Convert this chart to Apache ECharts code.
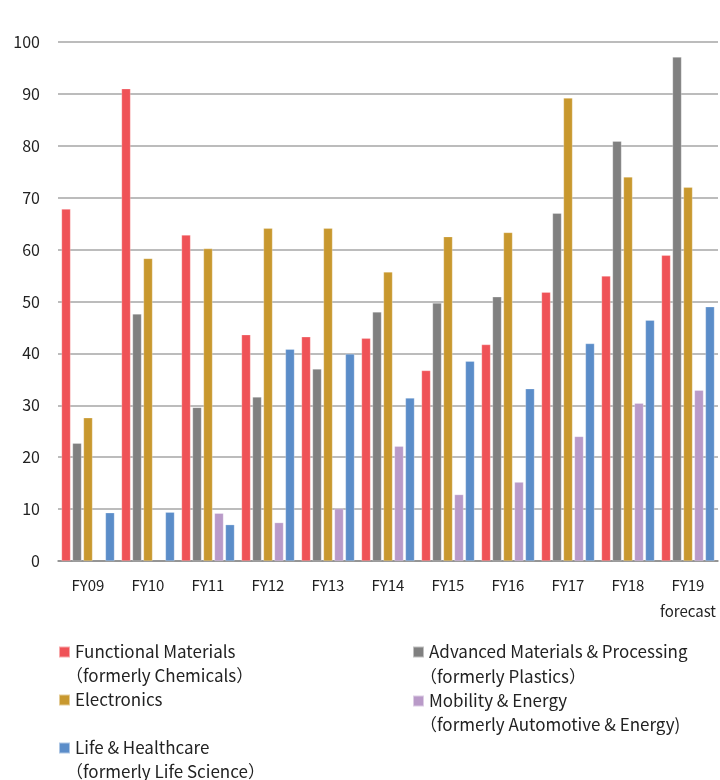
<!DOCTYPE html>
<html>
<head>
<meta charset="utf-8">
<script src="https://cdn.jsdelivr.net/npm/echarts@6/dist/echarts.min.js"></script>
<style>
html,body{margin:0;padding:0;background:#fff;}
#chart{width:720px;height:780px;}
</style>
</head>
<body>
<div id="chart"></div>
<script>
var categories = ['FY09','FY10','FY11','FY12','FY13','FY14','FY15','FY16','FY17','FY18','FY19\nforecast'];
var functionalMaterials = [67.8, 91.0, 62.8, 43.6, 43.2, 42.9, 36.7, 41.7, 51.8, 54.9, 58.9];
var advancedMaterials = [22.7, 47.6, 29.6, 31.6, 37.0, 48.0, 49.7, 50.9, 67.0, 80.9, 97.1];
var electronics = [27.6, 58.3, 60.2, 64.1, 64.1, 55.7, 62.5, 63.3, 89.2, 74.0, 72.0];
var mobilityEnergy = [null, null, 9.2, 7.4, 10.1, 22.1, 12.8, 15.2, 24.0, 30.4, 32.9];
var lifeHealthcare = [9.3, 9.4, 7.0, 40.8, 39.9, 31.4, 38.5, 33.2, 41.9, 46.4, 49.0];

var seriesNames = ['Functional Materials','Advanced Materials & Processing','Electronics','Mobility & Energy','Life & Healthcare'];
var seriesSubNames = ['（formerly Chemicals）','（formerly Plastics）','','（formerly Automotive & Energy)','（formerly Life Science）'];
var seriesData = [functionalMaterials, advancedMaterials, electronics, mobilityEnergy, lifeHealthcare];
var colors = ['#EF5257','#808080','#C8982E','#B99AC8','#5B8DC9'];

var FONT = '"Noto Sans CJK JP", "Noto Sans", sans-serif';

var legendPos = [
  {left: 58, y: 652, sub: 676},
  {left: 412, y: 652, sub: 677},
  {left: 58, y: 700, sub: null},
  {left: 412, y: 701, sub: 725},
  {left: 58, y: 748, sub: 772}
];

var legends = [];
var graphics = [];
seriesNames.forEach(function(n, i){
  var p = legendPos[i];
  legends.push({
    data: [n],
    left: p.left,
    top: p.y - 12,
    padding: 0,
    itemWidth: 11,
    itemHeight: 11,
    selectedMode: false,
    icon: 'rect',
    textStyle: {fontFamily: FONT, fontSize: 17, color: '#222', lineHeight: 24}
  });
  if (seriesSubNames[i]) {
    graphics.push({
      type: 'text',
      x: p.left + 8,
      y: p.sub,
      style: {text: seriesSubNames[i], fontFamily: FONT, fontSize: 17, fill: '#222', verticalAlign: 'middle', align: 'left'}
    });
  }
});

var chart = echarts.init(document.getElementById('chart'));
chart.setOption({
  animation: false,
  color: colors,
  grid: {left: 58, right: 2, top: 42, bottom: 219, containLabel: false},
  legend: legends,
  graphic: graphics,
  xAxis: {
    type: 'category',
    data: categories,
    axisLine: {lineStyle: {color: '#888', width: 1.5}},
    axisTick: {show: false},
    axisLabel: {fontFamily: FONT, fontSize: 15, color: '#222', margin: 11, lineHeight: 26, interval: 0}
  },
  yAxis: {
    type: 'value',
    min: 0,
    max: 100,
    interval: 10,
    axisLine: {show: false},
    axisTick: {show: false},
    splitLine: {lineStyle: {color: '#a6a6a6', width: 1.5}},
    axisLabel: {fontFamily: FONT, fontSize: 16, color: '#222', margin: 18}
  },
  series: seriesNames.map(function(n, i){
    return {
      name: n,
      type: 'bar',
      data: seriesData[i],
      barWidth: 9,
      barGap: '22%',
      itemStyle: {color: colors[i], borderColor: 'rgba(255,255,255,0.5)', borderWidth: 0.5}
    };
  })
});
</script>
</body>
</html>
